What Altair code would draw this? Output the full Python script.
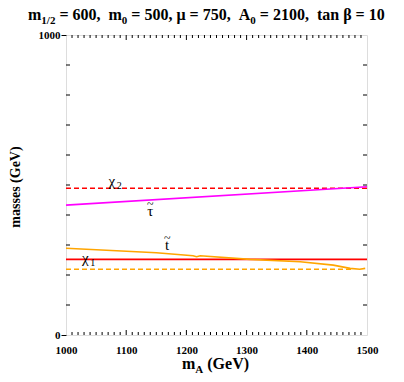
import altair as alt
import pandas as pd

# ---- data ----
chi2_ma = [1000, 1500]
chi2_mass = [489, 489]
chi1_ma = [1000, 1500]
chi1_mass = [252, 252]
stau_ma = [1000, 1500]
stau_mass = [433, 494]
stop_ma = [1000, 1084, 1150, 1211, 1217, 1223, 1306, 1389, 1444, 1472, 1488, 1497]
stop_mass = [289, 281, 274, 264, 261, 264, 252, 244, 233, 222, 219, 222]
odash_ma = [1000, 1478]
odash_mass = [219, 219]

x_tick_labels = [1000, 1100, 1200, 1300, 1400, 1500]
x_minor = [v for v in range(1010, 1500, 10) if v % 100 != 0]
x_major_inner = [1100, 1200, 1300, 1400]
y_tick_labels = [0, 1000]
y_minor = list(range(100, 1000, 100))

# label anchors (data coords)
lab_chi2 = (1076, 512)
lab_stau = (1140, 414)
lab_stop = (1168, 300)
lab_chi1 = (1032, 256)

W, H = 301, 300
FONT = "Times New Roman, Liberation Serif, serif"

xs = alt.Scale(domain=[1000, 1500], nice=False, zero=False)
ys = alt.Scale(domain=[0, 1000], nice=False)
xaxis = alt.Axis(values=x_tick_labels, ticks=False, domain=False, grid=False,
                 format="d", labelPadding=9, labelFontSize=11, labelFontWeight="bold",
                 labelFont=FONT, labelColor="black", title="", labelFlush=False,
                 labelOverlap=False)
yaxis = alt.Axis(values=y_tick_labels, tickSize=5, tickColor="black", tickWidth=1,
                 format="d", domain=False, grid=False, labelPadding=1, labelFontSize=11,
                 labelFontWeight="bold", labelFont=FONT, labelColor="black",
                 title="", labelOverlap=False)

X = alt.X("x:Q", scale=xs, axis=xaxis)
Y = alt.Y("y:Q", scale=ys, axis=yaxis)


def df(xv, yv):
    return pd.DataFrame({"x": xv, "y": yv})


def line(xv, yv, color, dash=None, width=1.6):
    kw = dict(color=color, strokeWidth=width)
    if dash:
        kw["strokeDash"] = dash
    return alt.Chart(df(xv, yv)).mark_line(**kw).encode(x=X, y=Y)


layers = []
layers.append(line(chi2_ma, chi2_mass, "#ff0000", [5, 3]))
layers.append(line(odash_ma, odash_mass, "#ffa500", [5, 3]))
layers.append(line(chi1_ma, chi1_mass, "#ff0000"))
layers.append(line(stop_ma, stop_mass, "#ffa500"))
layers.append(line(stau_ma, stau_mass, "#ff00ff"))

# inward ticks
tk = dict(color="black", strokeWidth=1)
xm = pd.DataFrame({"x": x_minor})
xM = pd.DataFrame({"x": x_major_inner})
ym = pd.DataFrame({"y": y_minor})
layers.append(alt.Chart(xm).mark_rule(**tk).encode(x=X, y=alt.value(H), y2=alt.value(H - 3)))
layers.append(alt.Chart(xm).mark_rule(**tk).encode(x=X, y=alt.value(0), y2=alt.value(3)))
layers.append(alt.Chart(xM).mark_rule(**tk).encode(x=X, y=alt.value(H), y2=alt.value(H - 5)))
layers.append(alt.Chart(xM).mark_rule(**tk).encode(x=X, y=alt.value(0), y2=alt.value(5)))
layers.append(alt.Chart(ym).mark_rule(**tk).encode(y=Y, x=alt.value(0), x2=alt.value(4)))
layers.append(alt.Chart(ym).mark_rule(**tk).encode(y=Y, x=alt.value(W), x2=alt.value(W - 4)))


# curve labels
def label(pos, main, sub=None, tilde=False):
    d = pd.DataFrame({"x": [pos[0]], "y": [pos[1]]})
    out = [alt.Chart(d).mark_text(font=FONT, fontSize=15, color="black",
                                  align="center", baseline="middle").encode(
        x=X, y=Y, text=alt.value(main))]
    if sub:
        out.append(alt.Chart(d).mark_text(font=FONT, fontSize=10, color="black",
                                          align="left", baseline="middle",
                                          dx=5, dy=5).encode(
            x=X, y=Y, text=alt.value(sub)))
    if tilde:
        out.append(alt.Chart(d).mark_text(font=FONT, fontSize=12, color="black",
                                          align="center", baseline="middle",
                                          dy=-7).encode(
            x=X, y=Y, text=alt.value("~")))
    return out


layers += label(lab_chi2, "χ", "2")
layers += label(lab_stau, "τ", tilde=True)
layers += label(lab_stop, "t", tilde=True)
layers += label(lab_chi1, "χ", "1")

# rich text (title / axis titles) made of segments
WID = {" ": 250, ",": 250, "/": 278, "=": 570, "A": 722, "a": 500, "m": 833,
       "n": 556, "t": 333, "(": 333, ")": 333, "G": 778, "e": 444, "V": 722,
       "s": 389, "μ": 576, "β": 556}


def tw(s, size):
    return sum(WID.get(c, 500) for c in s) * size / 1000.0


def rich(tokens, x0, y0):
    out = []
    x = x0
    for text, size, dy in tokens:
        if text.strip():
            out.append(alt.Chart(pd.DataFrame({"a": [0]})).mark_text(
                font=FONT, fontSize=size, fontWeight="bold", color="black",
                align="left", baseline="alphabetic").encode(
                x=alt.value(x), y=alt.value(y0 + dy), text=alt.value(text)))
        x += tw(text, size)
    return out


title_tokens = [("m", 16, 0), ("1/2", 11, 4), (" ", 16, 0), ("= 600,", 16, 0),
                ("  ", 16, 0), ("m", 16, 0), ("0", 11, 4), (" ", 16, 0),
                ("= 500,", 16, 0), (" ", 16, 0), ("μ = 750,", 16, 0), ("  ", 16, 0),
                ("A", 16, 0), ("0", 11, 4), (" ", 16, 0), ("= 2100,", 16, 0),
                ("  ", 16, 0), ("tan β = 10", 16, 0)]
layers += rich(title_tokens, -38, -15)

xt_tokens = [("m", 16, 0), ("A", 11, 4), (" ", 16, 0), ("(GeV)", 16, 0)]
layers += rich(xt_tokens, 116, 334)

layers.append(alt.Chart(pd.DataFrame({"a": [0]})).mark_text(
    font=FONT, fontSize=14, fontWeight="bold", color="black", angle=270,
    align="center", baseline="middle").encode(
    x=alt.value(-50), y=alt.value(152), text=alt.value("masses (GeV)")))

chart = alt.layer(*layers).properties(
    width=W, height=H,
    autosize=alt.AutoSizeParams(type="none"),
    padding={"left": 58, "top": 27, "right": 25, "bottom": 40},
).configure_view(stroke="black", strokeWidth=1.6).configure(background="white")

chart.save("out.html", embed_options={"renderer": "svg", "actions": False})
